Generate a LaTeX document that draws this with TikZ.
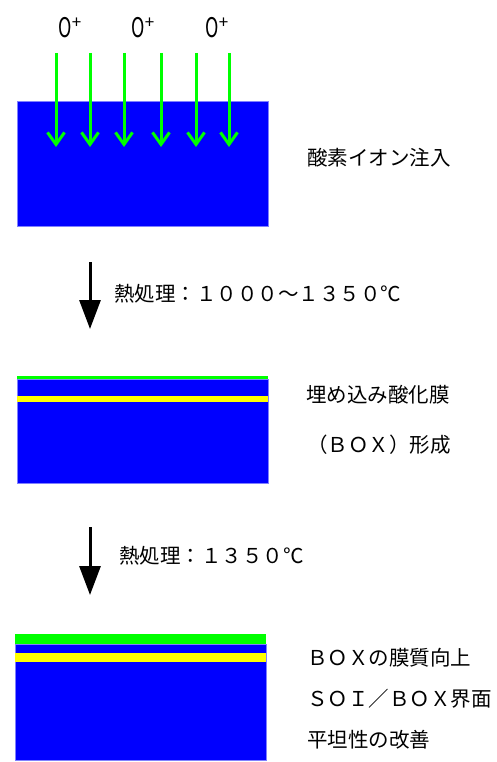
\documentclass[tikz,border=0pt]{standalone}
\usepackage{fontspec}
\setmainfont{Noto Sans CJK JP}
\usetikzlibrary{arrows.meta}
\definecolor{sblue}{RGB}{0,0,255}
\definecolor{sgreen}{RGB}{0,255,0}
\definecolor{syellow}{RGB}{255,255,0}
\newcommand{\oplusion}{\scalebox{0.9}[1.35]{O}\raisebox{0.45em}{\fontsize{17}{17}\selectfont +}}
\tikzset{
  jtext/.style={anchor=west,inner sep=0pt,font=\fontsize{20.5}{24}\selectfont},
  ionlbl/.style={inner sep=0pt,font=\fontsize{20}{22}\selectfont},
  ion/.style={draw=sgreen,line width=3pt,-{Straight Barb[length=12pt,width=17pt,line width=3pt]}},
  process/.style={draw=black,line width=3pt,-{Triangle[length=29pt,width=21pt]}},
  layer/.style={draw=sblue!50,line width=0.4pt}
}
\begin{document}
\begin{tikzpicture}[x=1pt,y=-1pt]
\useasboundingbox (0,0) rectangle (497,762);
% --- stage 1 ---
\fill[sblue,layer] (17,101) rectangle (268,226);
\foreach \i/\x in {1/56,2/90,3/124,4/161,5/196,6/229}{
  \coordinate (s\i) at (\x,53);
  \coordinate (e\i) at (\x,147);
  \draw[ion] (s\i) -- (e\i);
}
\node[ionlbl] (o1) at (70,28) {\oplusion};
\node[ionlbl] (o2) at (143,28) {\oplusion};
\node[ionlbl] (o3) at (217,28) {\oplusion};
\node[jtext] (t1) at (307,158) {酸素イオン注入};
% --- arrow 1 ---
\coordinate (a1s) at (90,262);
\coordinate (a1e) at (90,329);
\draw[process] (a1s) -- (a1e);
\node[jtext] (h1) at (114,294) {熱処理：１０００～１３５０℃};
% --- stage 2 ---
\fill[sblue,layer] (17,379) rectangle (268,483);
\fill[sgreen] (17,376) rectangle (268,379);
\fill[syellow] (17,396) rectangle (268,402);
\node[jtext] (t2) at (306,395) {埋め込み酸化膜};
\node[jtext] (t3) at (307,445) {（ＢＯＸ）形成};
% --- arrow 2 ---
\coordinate (a2s) at (90,527);
\coordinate (a2e) at (90,595);
\draw[process] (a2s) -- (a2e);
\node[jtext] (h2) at (119,556) {熱処理：１３５０℃};
% --- stage 3 ---
\fill[sblue,layer] (15,644) rectangle (266,760);
\fill[sgreen] (15,634) rectangle (266,644);
\fill[syellow] (15,653) rectangle (266,662);
\node[jtext] (t4) at (307,658) {ＢＯＸの膜質向上};
\node[jtext] (t5) at (307,699) {ＳＯＩ／ＢＯＸ界面};
\node[jtext] (t6) at (307,740) {平坦性の改善};
\end{tikzpicture}
\end{document}
